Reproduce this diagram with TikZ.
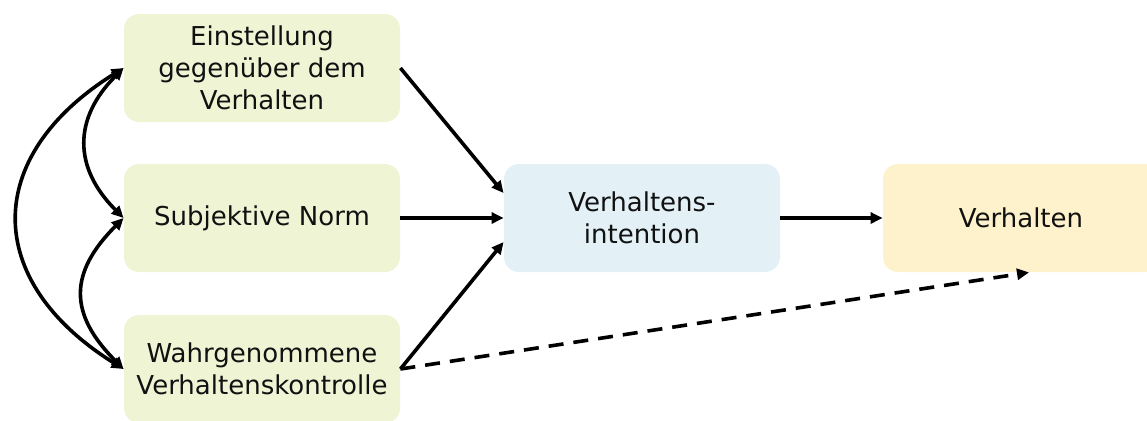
\documentclass[tikz,border=0pt]{standalone}
\usepackage{fontspec}
\setmainfont{DejaVu Sans}
\usepackage{tikz}
\usepackage{xcolor}
\usetikzlibrary{positioning, arrows.meta, calc}
\definecolor{cBoxGreen}  {HTML}{EFF5D4}
\definecolor{cBoxBlue}   {HTML}{E3F1F7}
\definecolor{cBoxYellow} {HTML}{FDF2CB}
\definecolor{cInk}       {HTML}{111111}

\begin{document}
\begin{tikzpicture}[x=0.5pt, y=0.5pt,
    box/.style={rounded corners=7.5pt, minimum width=138pt, minimum height=54pt,
                align=center, text=cInk, inner sep=0pt,
                font=\fontsize{13}{16}\selectfont},
    link/.style={draw=black, line width=1.8pt,
                 -{Triangle[length=6pt, width=5.5pt]}},
    twoway/.style={link, {Triangle[length=6pt, width=5.5pt]}-{Triangle[length=6pt, width=5.5pt]}},
  ]
  \useasboundingbox (0,0) rectangle (1147,-420);
  % left column
  \node[box, fill=cBoxGreen] (einstellung) at (262,-68)  {Einstellung\\gegenüber dem\\Verhalten};
  \node[box, fill=cBoxGreen] (norm)        at (262,-218) {Subjektive Norm};
  \node[box, fill=cBoxGreen] (kontrolle)   at (262,-369) {Wahrgenommene\\Verhaltenskontrolle};
  % middle and right
  \node[box, fill=cBoxBlue]   (intention) at (642,-218)  {Verhaltens-\\intention};
  \node[box, fill=cBoxYellow] (verhalten) at (1021,-218) {Verhalten};

  \draw[link] (einstellung.east) -- ([yshift=12.5pt]intention.west);
  \draw[link] (norm.east) -- (intention.west);
  \draw[link] (kontrolle.east) -- ([yshift=-12pt]intention.west);
  \draw[link] (intention.east) -- (verhalten.west);
  \draw[link, dash pattern=on 7.5pt off 5pt]
    (kontrolle.east) -- ([xshift=4pt]verhalten.south);

  % correlations on the left
  \draw[twoway] (einstellung.west) to[out=225, in=135, looseness=1.22] (norm.west);
  \draw[twoway] (norm.west) to[out=225, in=135, looseness=1.32] (kontrolle.west);
  \draw[twoway] (einstellung.west) to[out=212, in=148, looseness=1.42] (kontrolle.west);
\end{tikzpicture}
\end{document}
